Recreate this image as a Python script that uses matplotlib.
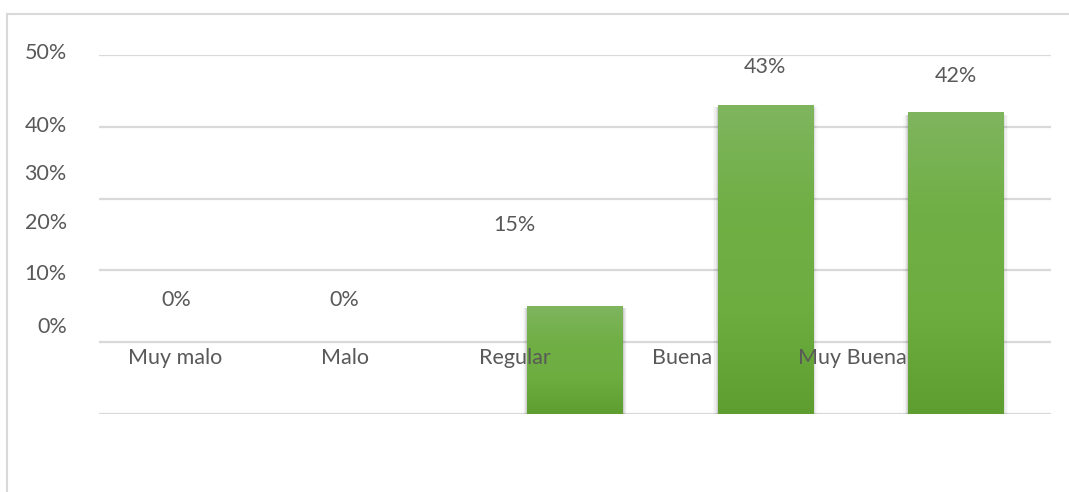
import matplotlib
matplotlib.use("Agg")
import matplotlib.pyplot as plt
import numpy as np
from matplotlib.colors import LinearSegmentedColormap
from matplotlib.lines import Line2D

# data
categories = ["Muy malo", "Malo", "Regular", "Buena", "Muy Buena"]
values = [0, 0, 15, 43, 42]
value_labels = ["0%", "0%", "15%", "43%", "42%"]
tick_values = [0, 10, 20, 30, 40, 50]
tick_labels = ["0%", "10%", "20%", "30%", "40%", "50%"]

# layout of the (odd) label placement in the original
cat_label_x = [-0.10, 0.79, 1.685, 2.56, 3.455]
cat_label_y = 7.8
val_label_x = [-0.095, 0.79, 1.68, 3.0, 4.0]
val_label_y = [15.9, 15.9, 26.3, 48.3, 47.1]
tick_label_y = [12.1, 19.5, 26.6, 33.4, 40.1, 50.3]

text_color = "#595959"
grid_color = "#D9D9D9"
plt.rcParams["font.family"] = ["Lato", "DejaVu Sans"]

W, H = 1069, 492
fig = plt.figure(figsize=(W / 100, H / 100), dpi=100)

# outer chart border (top and left only visible)
fig.add_artist(Line2D([7 / W, 1], [1 - 14 / H, 1 - 14 / H], color=grid_color, lw=1.5))
fig.add_artist(Line2D([7 / W, 7 / W], [0, 1 - 14 / H], color=grid_color, lw=1.5))

ax = fig.add_axes([99 / W, 78 / H, 952 / W, 359 / H])
ax.set_xlim(-0.5, 4.5)
ax.set_ylim(0, 50)
for s in ax.spines.values():
    s.set_visible(False)
ax.set_xticks([])
ax.set_yticks(tick_values)
ax.set_yticklabels([])
ax.tick_params(axis="y", length=0)
ax.yaxis.grid(True, color=grid_color, lw=1.6)
ax.set_axisbelow(True)

# bars with vertical gradient and soft shadow
cmap = LinearSegmentedColormap.from_list("g", ["#5E9E30", "#6DAD40", "#70AF45", "#7FB55F"])
grad = np.linspace(0, 1, 256).reshape(-1, 1)
x = np.arange(len(categories))
bw = 0.5
for xi, v in zip(x, values):
    if v <= 0:
        continue
    for k, a in zip([0.05, 0.035, 0.02, 0.01], [0.025, 0.04, 0.06, 0.08]):
        ax.bar(xi, v + 0.2, width=bw + k, bottom=-0.5, color="black", alpha=a, lw=0, zorder=2)
    bar = ax.bar(xi, v, width=bw, color="#70AD47", lw=0, zorder=3)[0]
    im = ax.imshow(grad, cmap=cmap, aspect="auto", origin="lower",
                   extent=[xi - bw / 2, xi + bw / 2, 0, v], zorder=4)
    im.set_clip_path(bar)

ax.set_xlim(-0.5, 4.5)
ax.set_ylim(0, 50)

fs = 15.5
for lab, xx, yy in zip(value_labels, val_label_x, val_label_y):
    ax.text(xx, yy, lab, ha="center", va="center", fontsize=fs, color=text_color, zorder=6)
for lab, xx in zip(categories, cat_label_x):
    ax.text(xx, cat_label_y, lab, ha="center", va="center", fontsize=fs, color=text_color, zorder=6)
for lab, yy in zip(tick_labels, tick_label_y):
    ax.text(-0.034, yy, lab, ha="right", va="center", fontsize=fs, color=text_color,
            transform=ax.get_yaxis_transform(), clip_on=False)

fig.savefig("out.png", dpi=100)
